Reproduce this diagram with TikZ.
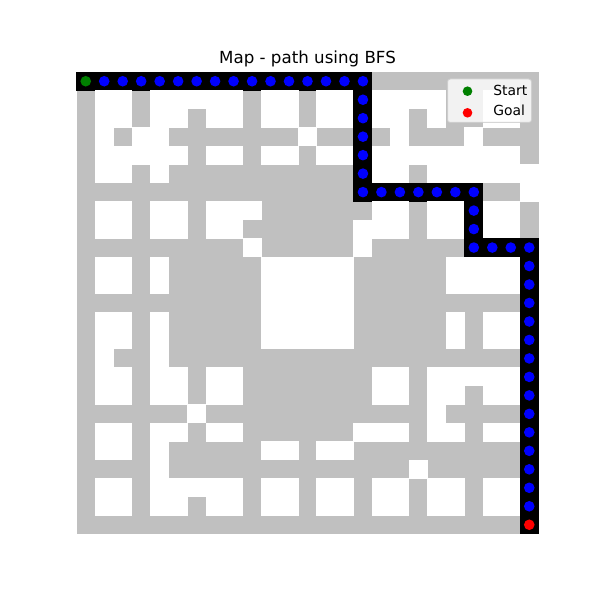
\documentclass[tikz,border=0pt]{standalone}
\usepackage{fontspec}
\setmainfont{DejaVu Sans}
\definecolor{wall}{RGB}{192,192,192}
\definecolor{pathblue}{RGB}{0,0,255}
\definecolor{startgreen}{RGB}{0,128,0}
\definecolor{goalred}{RGB}{255,0,0}
\definecolor{legedge}{RGB}{204,204,204}
\tikzset{
  titletext/.style={anchor=base,inner sep=0pt,font=\fontsize{12bp}{14bp}\selectfont},
  legtext/.style={anchor=base west,inner sep=0pt,font=\fontsize{10bp}{12bp}\selectfont},
  legbox/.style={fill=white,fill opacity=0.8,draw=legedge,draw opacity=0.8,line width=0.72bp,rounded corners=2bp}
}
\begin{document}
\begin{tikzpicture}[x=0.72bp,y=-0.72bp]
\useasboundingbox (0,0) rectangle (600,600);
% grid background (walls)
\fill[wall] (76.5,72) rectangle (538.5,534);
% 0 = free, 1 = wall, 2 = path
\foreach \row [count=\r from 0] in {
{2,2,2,2,2,2,2,2,2,2,2,2,2,2,2,2,1,1,1,1,1,1,1,1,1},
{1,0,0,1,0,0,0,0,0,1,0,0,1,0,0,2,0,0,0,0,1,1,0,0,1},
{1,0,0,1,0,0,1,0,0,1,0,0,1,0,0,2,0,0,1,0,1,1,0,0,1},
{1,0,1,0,0,1,1,1,1,1,1,1,0,1,1,2,1,0,1,1,1,0,1,1,1},
{1,0,0,0,0,0,1,0,0,1,0,0,1,0,0,2,0,0,0,0,0,0,0,0,1},
{1,0,0,1,0,1,1,1,1,1,1,1,1,1,1,2,0,0,1,0,0,0,0,0,0},
{1,1,1,1,1,1,1,1,1,1,1,1,1,1,1,2,2,2,2,2,2,2,1,1,0},
{1,0,0,1,0,0,1,0,0,0,1,1,1,1,1,1,0,0,1,0,0,2,0,0,1},
{1,0,0,1,0,0,1,0,0,1,1,1,1,1,1,0,0,0,1,0,0,2,0,0,1},
{1,1,1,1,1,1,1,1,1,0,1,1,1,1,1,0,1,1,1,1,1,2,2,2,2},
{1,0,0,1,0,1,1,1,1,1,0,0,0,0,0,1,1,1,1,1,0,0,0,0,2},
{1,0,0,1,0,1,1,1,1,1,0,0,0,0,0,1,1,1,1,1,0,0,0,0,2},
{1,1,1,1,1,1,1,1,1,1,0,0,0,0,0,1,1,1,1,1,1,1,1,1,2},
{1,0,0,1,0,1,1,1,1,1,0,0,0,0,0,1,1,1,1,1,0,1,0,0,2},
{1,0,0,1,0,1,1,1,1,1,0,0,0,0,0,1,1,1,1,1,0,1,0,0,2},
{1,0,1,1,0,1,1,1,1,1,1,1,1,1,1,1,1,1,1,1,1,1,1,1,2},
{1,0,0,1,0,0,1,0,0,1,1,1,1,1,1,1,0,0,1,0,0,0,0,0,2},
{1,0,0,1,0,0,1,0,0,1,1,1,1,1,1,1,0,0,1,0,0,1,0,0,2},
{1,1,1,1,1,1,0,1,1,1,1,1,1,1,1,1,1,1,1,0,1,1,1,1,2},
{1,0,0,1,0,0,1,0,0,1,1,1,1,1,1,0,0,0,1,0,0,1,0,0,2},
{1,0,0,1,0,1,1,1,1,1,0,0,1,0,0,1,1,1,1,1,1,1,1,1,2},
{1,1,1,1,0,1,1,1,1,1,1,1,1,1,1,1,1,1,0,1,1,1,1,1,2},
{1,0,0,1,0,0,0,0,0,1,0,0,1,0,0,1,0,0,1,0,0,1,0,0,2},
{1,0,0,1,0,0,1,0,0,1,0,0,1,0,0,1,0,0,1,0,0,1,0,0,2},
{1,1,1,1,1,1,1,1,1,1,1,1,1,1,1,1,1,1,1,1,1,1,1,1,2}} {
  \foreach \v [count=\c from 0] in \row {
    \ifnum\v=0
      \fill[white] ({76.5+\c*18.48-0.25},{72+\r*18.48-0.25}) rectangle ++(18.98,18.98);
    \fi
    \ifnum\v=2
      \fill[black] ({76.5+\c*18.48-0.25},{72+\r*18.48-0.25}) rectangle ++(18.98,18.98);
    \fi
  }
}
% path markers
\foreach \row [count=\r from 0] in {
{2,2,2,2,2,2,2,2,2,2,2,2,2,2,2,2,1,1,1,1,1,1,1,1,1},
{1,0,0,1,0,0,0,0,0,1,0,0,1,0,0,2,0,0,0,0,1,1,0,0,1},
{1,0,0,1,0,0,1,0,0,1,0,0,1,0,0,2,0,0,1,0,1,1,0,0,1},
{1,0,1,0,0,1,1,1,1,1,1,1,0,1,1,2,1,0,1,1,1,0,1,1,1},
{1,0,0,0,0,0,1,0,0,1,0,0,1,0,0,2,0,0,0,0,0,0,0,0,1},
{1,0,0,1,0,1,1,1,1,1,1,1,1,1,1,2,0,0,1,0,0,0,0,0,0},
{1,1,1,1,1,1,1,1,1,1,1,1,1,1,1,2,2,2,2,2,2,2,1,1,0},
{1,0,0,1,0,0,1,0,0,0,1,1,1,1,1,1,0,0,1,0,0,2,0,0,1},
{1,0,0,1,0,0,1,0,0,1,1,1,1,1,1,0,0,0,1,0,0,2,0,0,1},
{1,1,1,1,1,1,1,1,1,0,1,1,1,1,1,0,1,1,1,1,1,2,2,2,2},
{1,0,0,1,0,1,1,1,1,1,0,0,0,0,0,1,1,1,1,1,0,0,0,0,2},
{1,0,0,1,0,1,1,1,1,1,0,0,0,0,0,1,1,1,1,1,0,0,0,0,2},
{1,1,1,1,1,1,1,1,1,1,0,0,0,0,0,1,1,1,1,1,1,1,1,1,2},
{1,0,0,1,0,1,1,1,1,1,0,0,0,0,0,1,1,1,1,1,0,1,0,0,2},
{1,0,0,1,0,1,1,1,1,1,0,0,0,0,0,1,1,1,1,1,0,1,0,0,2},
{1,0,1,1,0,1,1,1,1,1,1,1,1,1,1,1,1,1,1,1,1,1,1,1,2},
{1,0,0,1,0,0,1,0,0,1,1,1,1,1,1,1,0,0,1,0,0,0,0,0,2},
{1,0,0,1,0,0,1,0,0,1,1,1,1,1,1,1,0,0,1,0,0,1,0,0,2},
{1,1,1,1,1,1,0,1,1,1,1,1,1,1,1,1,1,1,1,0,1,1,1,1,2},
{1,0,0,1,0,0,1,0,0,1,1,1,1,1,1,0,0,0,1,0,0,1,0,0,2},
{1,0,0,1,0,1,1,1,1,1,0,0,1,0,0,1,1,1,1,1,1,1,1,1,2},
{1,1,1,1,0,1,1,1,1,1,1,1,1,1,1,1,1,1,0,1,1,1,1,1,2},
{1,0,0,1,0,0,0,0,0,1,0,0,1,0,0,1,0,0,1,0,0,1,0,0,2},
{1,0,0,1,0,0,1,0,0,1,0,0,1,0,0,1,0,0,1,0,0,1,0,0,2},
{1,1,1,1,1,1,1,1,1,1,1,1,1,1,1,1,1,1,1,1,1,1,1,1,2}} {
  \foreach \v [count=\c from 0] in \row {
    \ifnum\v=2
      \def\dotcol{pathblue}%
      \ifnum\r=0 \ifnum\c=0 \def\dotcol{startgreen}\fi\fi
      \ifnum\r=24 \ifnum\c=24 \def\dotcol{goalred}\fi\fi
      \fill[\dotcol] ({76.5+\c*18.48+9.24},{72+\r*18.48+9.24}) circle (5.3);
    \fi
  }
}
% title
\node[titletext] (title) at (307.5,63.5) {Map - path using BFS};
% legend
\draw[legbox] (447.5,79) rectangle (531.6,122.5);
\fill[startgreen] (467.5,91.2) circle (4.8);
\fill[goalred] (467.5,112.8) circle (4.8);
\node[legtext] (lstart) at (493,96) {Start};
\node[legtext] (lgoal) at (493,115.7) {Goal};
\end{tikzpicture}
\end{document}
